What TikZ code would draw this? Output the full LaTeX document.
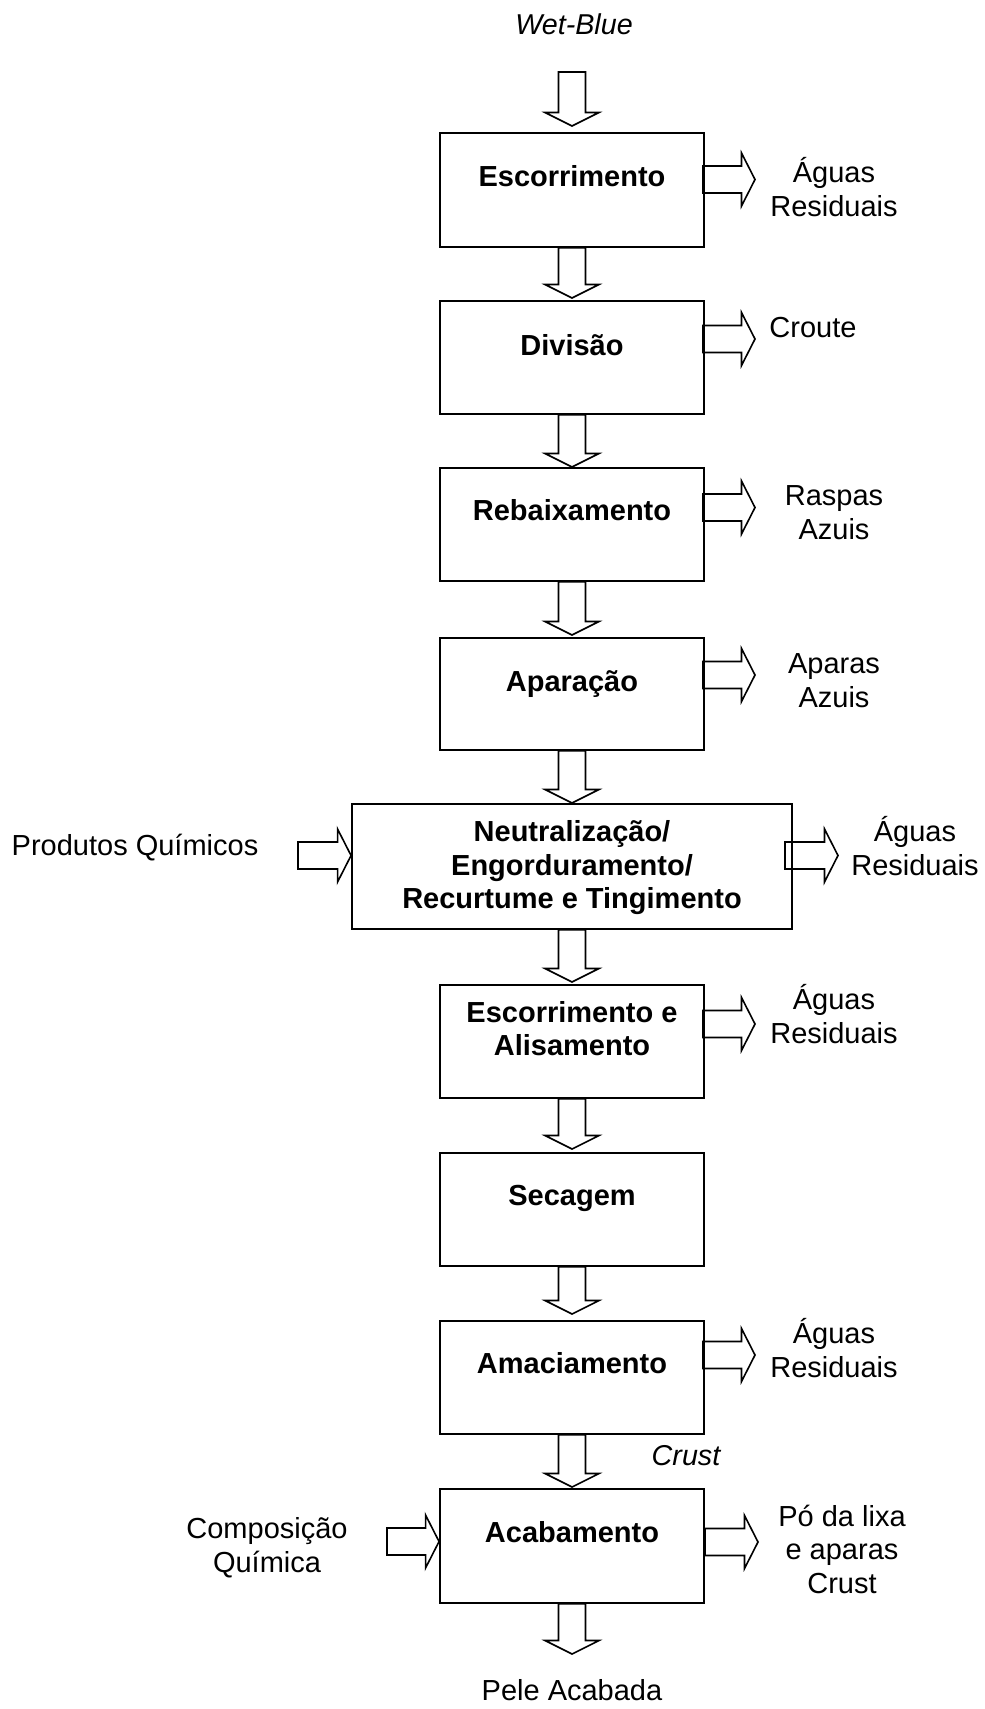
\documentclass[tikz,border=0pt]{standalone}
\usepackage{fontspec}
\setmainfont{Liberation Sans}
\usetikzlibrary{calc}
\begin{document}
\begin{tikzpicture}[x=1pt,y=-1pt,
  procbox/.style={draw, line width=1.9pt, inner sep=0pt, anchor=north, align=center,
    minimum width=264pt, font=\bfseries\fontsize{29}{33.5}\selectfont},
  widebox/.style={procbox, minimum width=440pt},
  lbl/.style={anchor=base, align=center, inner sep=0pt, font=\fontsize{29}{33.5}\selectfont},
  % hollow block arrow pointing down, tip at the target
  fatdown/.style={line width=1.6pt, to path={let \p1=(\tikztostart), \p2=(\tikztotarget) in
    (\x1-13.5pt,\y1) -- (\x1-13.5pt,\y2+13.5pt) -- (\x1-27pt,\y2+13.5pt) -- (\x1,\y2)
    -- (\x1+27pt,\y2+13.5pt) -- (\x1+13.5pt,\y2+13.5pt) -- (\x1+13.5pt,\y1) -- cycle}},
  % hollow block arrow pointing right, tip at the target
  fatright/.style={line width=1.6pt, to path={let \p1=(\tikztostart), \p2=(\tikztotarget) in
    (\x1,\y1+13.5pt) -- (\x2-13.5pt,\y1+13.5pt) -- (\x2-13.5pt,\y1+26.5pt) -- (\x2,\y1)
    -- (\x2-13.5pt,\y1-26.5pt) -- (\x2-13.5pt,\y1-13.5pt) -- (\x1,\y1-13.5pt) -- cycle}}
]
\useasboundingbox (0,0) rectangle (985,1709);

% process steps (text height = distance from the top edge to the last baseline)
\node[procbox, text height=54pt, text depth=60pt] (esc) at (572,132) {Escorrimento};
\node[procbox, text height=55pt, text depth=58pt] (div) at (572,300) {Divisão};
\node[procbox, text height=53pt, text depth=60pt] (reb) at (572,467) {Rebaixamento};
\node[procbox, text height=54pt, text depth=58pt] (apa) at (572,637) {Aparação};
\node[widebox, text height=105pt, text depth=20pt] (neu) at (572,803)
  {Neutralização/\\Engorduramento/\\Recurtume e Tingimento};
\node[procbox, text height=71pt, text depth=42pt] (esa) at (572,984) {Escorrimento e\\Alisamento};
\node[procbox, text height=53pt, text depth=60pt] (sec) at (572,1152) {Secagem};
\node[procbox, text height=53pt, text depth=60pt] (ama) at (572,1320) {Amaciamento};
\node[procbox, text height=54pt, text depth=60pt] (aca) at (572,1488) {Acabamento};

% inputs, outputs and products (anchored at the last baseline)
\node[lbl, font=\itshape\fontsize{28.7}{33.5}\selectfont] (wb) at (574,34) {Wet-Blue};
\node[lbl] (o1) at (834,216) {Águas\\Residuais};
\node[lbl] (o2) at (813,337) {Croute};
\node[lbl] (o3) at (834,539) {Raspas\\Azuis};
\node[lbl] (o4) at (834,707) {Aparas\\Azuis};
\node[lbl] (o5) at (915,875) {Águas\\Residuais};
\node[lbl] (o6) at (834,1043) {Águas\\Residuais};
\node[lbl] (o7) at (834,1377) {Águas\\Residuais};
\node[lbl] (o8) at (842,1593) {Pó da lixa\\e aparas\\Crust};
\node[lbl, font=\itshape\fontsize{28.7}{33.5}\selectfont] (crust) at (686,1465) {Crust};
\node[lbl] (pq) at (135,855) {Produtos Químicos};
\node[lbl] (cq) at (267,1572) {Composição\\Química};
\node[lbl] (pa) at (572,1700) {Pele Acabada};

% free ends of the block arrows
\coordinate (wbarr) at (572,72);
\coordinate (paarr) at (572,1654);
\coordinate (t1) at (755,179.5);
\coordinate (t2) at (755,339);
\coordinate (t3) at (755,507.5);
\coordinate (t4) at (755,675);
\coordinate (t5) at (838,855.5);
\coordinate (t6) at (755,1024);
\coordinate (t7) at (755,1355);
\coordinate (t8) at (758,1542);
\coordinate (s5) at (298,855.5);
\coordinate (s9) at (387,1541.5);

% main flow
\draw[fatdown] (wbarr) to ([yshift=6pt]esc.north);
\draw[fatdown] (esc.south) to ([yshift=2pt]div.north);
\draw[fatdown] (div.south) to (reb.north);
\draw[fatdown] (reb.south) to ([yshift=2pt]apa.north);
\draw[fatdown] (apa.south) to (neu.north);
\draw[fatdown] (neu.south) to ([yshift=2pt]esa.north);
\draw[fatdown] (esa.south) to ([yshift=3pt]sec.north);
\draw[fatdown] (sec.south) to ([yshift=6pt]ama.north);
\draw[fatdown] (ama.south) to ([yshift=1pt]aca.north);
\draw[fatdown] (aca.south) to (paarr);

% side streams
\draw[fatright] ([xshift=-2pt]esc.east |- t1) to (t1);
\draw[fatright] ([xshift=-2pt]div.east |- t2) to (t2);
\draw[fatright] ([xshift=-2pt]reb.east |- t3) to (t3);
\draw[fatright] ([xshift=-2pt]apa.east |- t4) to (t4);
\draw[fatright] ([xshift=-8pt]neu.east |- t5) to (t5);
\draw[fatright] ([xshift=-2pt]esa.east |- t6) to (t6);
\draw[fatright] ([xshift=-2pt]ama.east |- t7) to (t7);
\draw[fatright] (aca.east |- t8) to (t8);
\draw[fatright] (s5) to (neu.west |- s5);
\draw[fatright] (s9) to (aca.west |- s9);
\end{tikzpicture}
\end{document}
